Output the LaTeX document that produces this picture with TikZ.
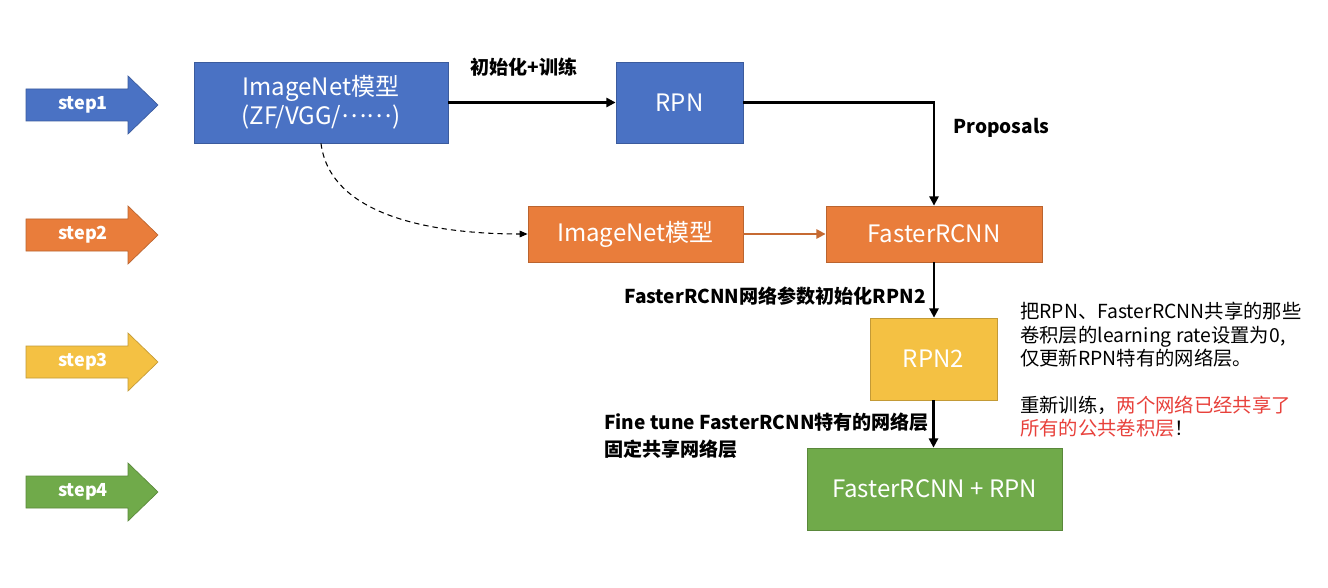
\documentclass[tikz,border=0pt]{standalone}
\usepackage{fontspec}
\setmainfont{Noto Sans CJK SC}
\usetikzlibrary{arrows.meta,calc}
\definecolor{cblue}{HTML}{4A72C4}
\definecolor{corange}{HTML}{E97D3B}
\definecolor{cyellow}{HTML}{F4C143}
\definecolor{cgreen}{HTML}{70AA4A}
\definecolor{cred}{HTML}{E8413B}
\begin{document}
\begin{tikzpicture}[x=0.75pt,y=-0.75pt,
  box/.style={draw=#1!80!black, fill=#1, line width=0.6pt, text=white,
    font=\fontsize{18}{22}\selectfont, align=center, inner sep=0pt},
  lbl/.style={font=\fontsize{14.3}{20}\selectfont\bfseries, inner sep=0pt},
  steplabel/.style={font=\fontsize{13.5}{16}\selectfont\bfseries, text=white, inner sep=0pt},
  conn/.style={line width=1.6pt, -{Triangle[length=7pt,width=7pt]}},
]
\useasboundingbox (0,0) rectangle (1328,588);
\fill[white] (0,0) rectangle (1328,588);

% step arrows
\foreach \yy/\c/\n in {105/cblue/1, 235/corange/2, 362/cyellow/3, 492/cgreen/4}{
  \filldraw[fill=\c, draw=\c!80!black, line width=0.5pt]
    (26,\yy-16) -- (128,\yy-16) -- (128,\yy-29) -- (158,\yy) -- (128,\yy+29)
    -- (128,\yy+16) -- (26,\yy+16) -- cycle;
  \node[steplabel] (step\n) at (83,\yy) {step\n};
}

% boxes
\node[box=cblue, minimum width=190.5pt, minimum height=60.75pt] (b1) at (321,102.5)
  {ImageNet模型\\(ZF/VGG/\raisebox{0.3em}{……})};
\node[box=cblue, minimum width=95.25pt, minimum height=60.75pt] (rpn) at (679.5,102.5) {RPN};
\node[box=corange, minimum width=161.25pt, minimum height=42pt] (in2) at (635.5,234) {ImageNet模型};
\node[box=corange, minimum width=162pt, minimum height=42pt] (fr) at (934,234) {FasterRCNN};
\node[box=cyellow, minimum width=95.25pt, minimum height=61.5pt] (rpn2) at (933.5,359) {RPN2};
\node[box=cgreen, minimum width=191.25pt, minimum height=61.5pt] (fin) at (934.5,489) {FasterRCNN + RPN};

% connectors
\draw[conn] (b1.east) -- (rpn.west);
\draw[conn] (rpn.east) -| (fr.north);
\draw[conn, draw=corange!85!black] (in2.east) -- (fr.west);
\draw[line width=0.8pt, dash pattern=on 4pt off 3pt, -{Triangle[length=6pt,width=5pt]}]
  (b1.south) .. controls (330,215) and (430,234) .. (in2.west);
\draw[conn] (fr.south) -- (fr.south |- rpn2.north);
\draw[conn] (rpn2.south) -- (rpn2.south |- fin.north);

% labels
\node[lbl, anchor=west] (l1) at (470,67) {初始化+训练};
\node[lbl, anchor=west] (l2) at (953,128) {Proposals};
\node[lbl, anchor=east] (l3) at (926,296) {FasterRCNN网络参数初始化RPN2};
\node[lbl, anchor=west] (l4) at (604,422) {Fine tune FasterRCNN特有的网络层};
\node[lbl, anchor=west] (l5) at (604,449) {固定共享网络层};

\node[anchor=north west, inner sep=0pt, align=left,
  font=\fontsize{14.5}{17.6}\selectfont] (note) at (1020,302)
  {把RPN、FasterRCNN共享的那些\\
   卷积层的learning rate设置为0,\\
   仅更新RPN特有的网络层。\\[17.6pt]
   重新训练，\textcolor{cred}{两个网络已经共享了}\\
   \textcolor{cred}{所有的公共卷积层}！};
\end{tikzpicture}
\end{document}
